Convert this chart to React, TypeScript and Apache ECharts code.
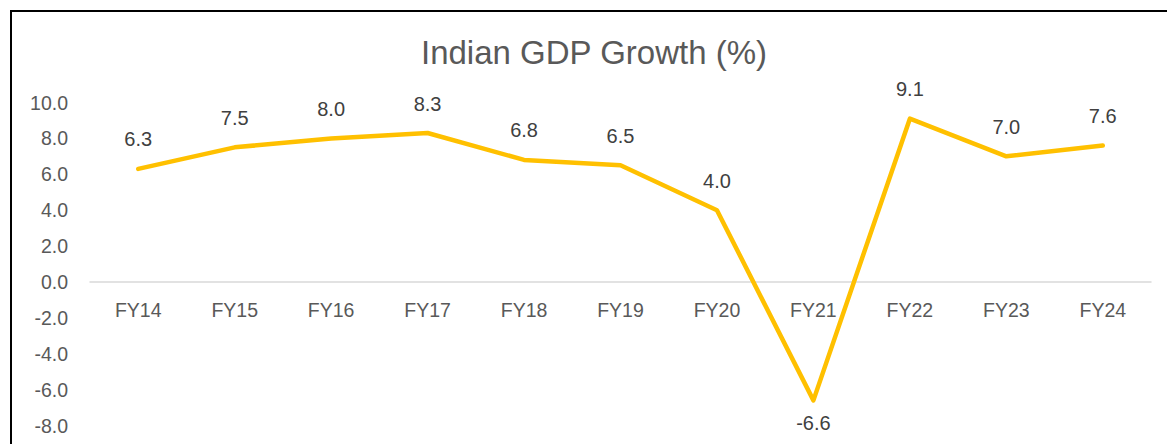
import React, { useEffect, useRef } from "react";
import * as echarts from "echarts";

const categories = ["FY14", "FY15", "FY16", "FY17", "FY18", "FY19", "FY20", "FY21", "FY22", "FY23", "FY24"];
const growth = [6.3, 7.5, 8.0, 8.3, 6.8, 6.5, 4.0, -6.6, 9.1, 7.0, 7.6];
const titleText = "Indian GDP Growth (%)";

const FONT = "'Liberation Sans', Arial, sans-serif";

export default function App() {
  const ref = useRef<HTMLDivElement>(null);
  useEffect(() => {
    if (!ref.current) return;
    const chart = echarts.init(ref.current, undefined, { renderer: "svg" });
    const gridTop = 102.5;
    const gridBottomPx = 425.5;
    const zeroPx = gridTop + (gridBottomPx - gridTop) * (10 / 18);
    chart.setOption({
      animation: false,
      backgroundColor: "#ffffff",
      textStyle: { fontFamily: FONT },
      graphic: [
        {
          type: "polyline",
          shape: { points: [[11, 444], [11, 11], [1167, 11]] },
          style: { stroke: "#000000", lineWidth: 2, fill: "none" },
        },
        {
          type: "text",
          x: 594,
          y: 52,
          style: {
            text: titleText,
            align: "center",
            verticalAlign: "middle",
            fontSize: 33,
            fill: "#595959",
            fontFamily: FONT,
          },
        },
      ],
      grid: {
        left: 90,
        right: 16,
        top: gridTop,
        bottom: 444 - gridBottomPx,
        containLabel: false,
        outerBoundsMode: "none",
      },
      xAxis: {
        type: "category",
        data: categories,
        boundaryGap: true,
        offset: -(gridBottomPx - zeroPx),
        axisLine: { show: true, onZero: false, lineStyle: { color: "#d9d9d9", width: 1.5 } },
        axisTick: { show: false },
        axisLabel: { color: "#595959", fontSize: 19.5, margin: 18, fontFamily: FONT },
        splitLine: { show: false },
      },
      yAxis: {
        type: "value",
        min: -8,
        max: 10,
        interval: 2,
        axisLine: { show: false },
        axisTick: { show: false },
        splitLine: { show: false },
        axisLabel: {
          color: "#595959",
          fontSize: 19.5,
          margin: 22,
          fontFamily: FONT,
          formatter: (v: number) => v.toFixed(1),
        },
      },
      series: [
        {
          type: "line",
          data: growth.map((v) => ({
            value: v,
            label: v < 0 ? { position: "bottom", distance: 12 } : { position: "top", distance: 19 },
          })),
          symbol: "circle",
          symbolSize: 1,
          showSymbol: true,
          itemStyle: { color: "rgba(0,0,0,0)" },
          lineStyle: { color: "#FFC000", width: 4.5, cap: "round", join: "round" },
          label: {
            show: true,
            color: "#404040",
            fontSize: 20,
            fontFamily: FONT,
            formatter: (p: any) => Number(p.value).toFixed(1),
          },
        },
      ],
    });
    return () => chart.dispose();
  }, []);
  return (
    <div style={{ position: "fixed", left: 0, top: 0, width: 1167, height: 444, background: "#fff" }}>
      <div ref={ref} style={{ width: 1167, height: 444 }} />
    </div>
  );
}
